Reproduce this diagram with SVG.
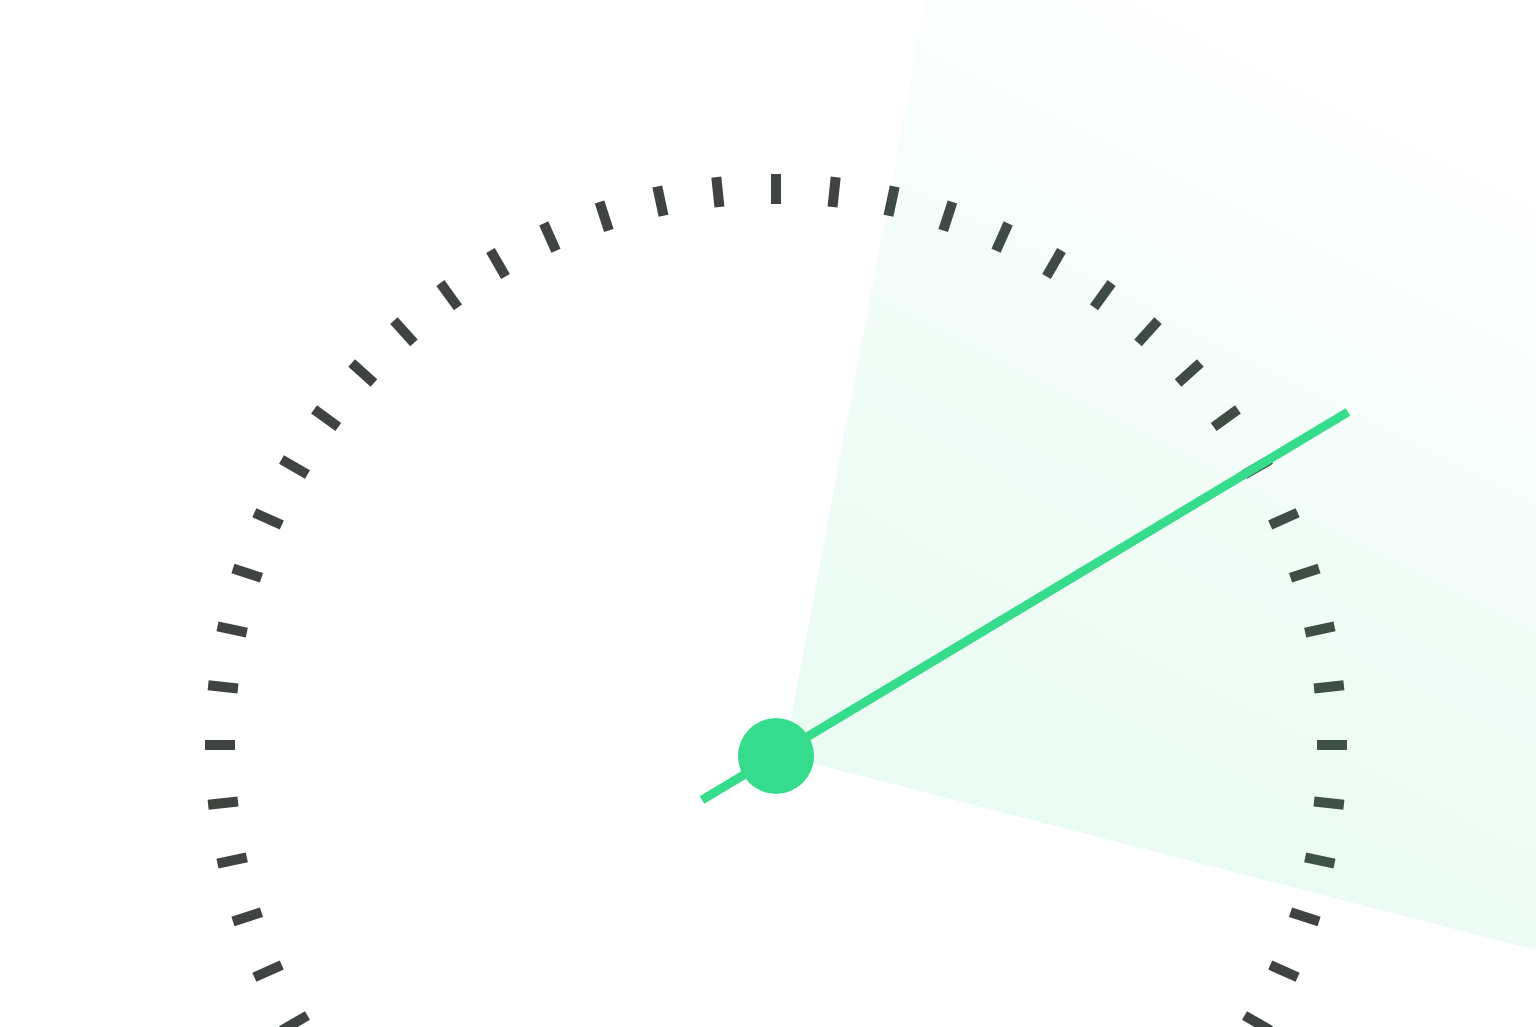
<svg xmlns="http://www.w3.org/2000/svg" width="1536" height="1027" viewBox="0 0 1536 1027">
<style>.t{stroke:#3f4441;stroke-width:10}</style>
<defs><linearGradient id="g" x1="0.2" y1="1" x2="0.6" y2="0"><stop offset="0" stop-color="#35dc8b" stop-opacity="0.12"/><stop offset="0.5" stop-color="#35dc8b" stop-opacity="0.07"/><stop offset="1" stop-color="#35dc8b" stop-opacity="0"/></linearGradient></defs>
<rect width="1536" height="1027" fill="#fff"/>
<g id="ticks">
<line class="t" x1="776" y1="174" x2="776" y2="204" transform="rotate(0 776 745)"/>
<line class="t" x1="776" y1="174" x2="776" y2="204" transform="rotate(6 776 745)"/>
<line class="t" x1="776" y1="174" x2="776" y2="204" transform="rotate(12 776 745)"/>
<line class="t" x1="776" y1="174" x2="776" y2="204" transform="rotate(18 776 745)"/>
<line class="t" x1="776" y1="174" x2="776" y2="204" transform="rotate(24 776 745)"/>
<line class="t" x1="776" y1="174" x2="776" y2="204" transform="rotate(30 776 745)"/>
<line class="t" x1="776" y1="174" x2="776" y2="204" transform="rotate(36 776 745)"/>
<line class="t" x1="776" y1="174" x2="776" y2="204" transform="rotate(42 776 745)"/>
<line class="t" x1="776" y1="174" x2="776" y2="204" transform="rotate(48 776 745)"/>
<line class="t" x1="776" y1="174" x2="776" y2="204" transform="rotate(54 776 745)"/>
<line class="t" x1="776" y1="174" x2="776" y2="204" transform="rotate(60 776 745)"/>
<line class="t" x1="776" y1="174" x2="776" y2="204" transform="rotate(66 776 745)"/>
<line class="t" x1="776" y1="174" x2="776" y2="204" transform="rotate(72 776 745)"/>
<line class="t" x1="776" y1="174" x2="776" y2="204" transform="rotate(78 776 745)"/>
<line class="t" x1="776" y1="174" x2="776" y2="204" transform="rotate(84 776 745)"/>
<line class="t" x1="776" y1="174" x2="776" y2="204" transform="rotate(90 776 745)"/>
<line class="t" x1="776" y1="174" x2="776" y2="204" transform="rotate(96 776 745)"/>
<line class="t" x1="776" y1="174" x2="776" y2="204" transform="rotate(102 776 745)"/>
<line class="t" x1="776" y1="174" x2="776" y2="204" transform="rotate(108 776 745)"/>
<line class="t" x1="776" y1="174" x2="776" y2="204" transform="rotate(114 776 745)"/>
<line class="t" x1="776" y1="174" x2="776" y2="204" transform="rotate(120 776 745)"/>
<line class="t" x1="776" y1="174" x2="776" y2="204" transform="rotate(126 776 745)"/>
<line class="t" x1="776" y1="174" x2="776" y2="204" transform="rotate(132 776 745)"/>
<line class="t" x1="776" y1="174" x2="776" y2="204" transform="rotate(138 776 745)"/>
<line class="t" x1="776" y1="174" x2="776" y2="204" transform="rotate(144 776 745)"/>
<line class="t" x1="776" y1="174" x2="776" y2="204" transform="rotate(150 776 745)"/>
<line class="t" x1="776" y1="174" x2="776" y2="204" transform="rotate(210 776 745)"/>
<line class="t" x1="776" y1="174" x2="776" y2="204" transform="rotate(216 776 745)"/>
<line class="t" x1="776" y1="174" x2="776" y2="204" transform="rotate(222 776 745)"/>
<line class="t" x1="776" y1="174" x2="776" y2="204" transform="rotate(228 776 745)"/>
<line class="t" x1="776" y1="174" x2="776" y2="204" transform="rotate(234 776 745)"/>
<line class="t" x1="776" y1="174" x2="776" y2="204" transform="rotate(240 776 745)"/>
<line class="t" x1="776" y1="174" x2="776" y2="204" transform="rotate(246 776 745)"/>
<line class="t" x1="776" y1="174" x2="776" y2="204" transform="rotate(252 776 745)"/>
<line class="t" x1="776" y1="174" x2="776" y2="204" transform="rotate(258 776 745)"/>
<line class="t" x1="776" y1="174" x2="776" y2="204" transform="rotate(264 776 745)"/>
<line class="t" x1="776" y1="174" x2="776" y2="204" transform="rotate(270 776 745)"/>
<line class="t" x1="776" y1="174" x2="776" y2="204" transform="rotate(276 776 745)"/>
<line class="t" x1="776" y1="174" x2="776" y2="204" transform="rotate(282 776 745)"/>
<line class="t" x1="776" y1="174" x2="776" y2="204" transform="rotate(288 776 745)"/>
<line class="t" x1="776" y1="174" x2="776" y2="204" transform="rotate(294 776 745)"/>
<line class="t" x1="776" y1="174" x2="776" y2="204" transform="rotate(300 776 745)"/>
<line class="t" x1="776" y1="174" x2="776" y2="204" transform="rotate(306 776 745)"/>
<line class="t" x1="776" y1="174" x2="776" y2="204" transform="rotate(312 776 745)"/>
<line class="t" x1="776" y1="174" x2="776" y2="204" transform="rotate(318 776 745)"/>
<line class="t" x1="776" y1="174" x2="776" y2="204" transform="rotate(324 776 745)"/>
<line class="t" x1="776" y1="174" x2="776" y2="204" transform="rotate(330 776 745)"/>
<line class="t" x1="776" y1="174" x2="776" y2="204" transform="rotate(336 776 745)"/>
<line class="t" x1="776" y1="174" x2="776" y2="204" transform="rotate(342 776 745)"/>
<line class="t" x1="776" y1="174" x2="776" y2="204" transform="rotate(348 776 745)"/>
<line class="t" x1="776" y1="174" x2="776" y2="204" transform="rotate(354 776 745)"/>
</g>
<polygon id="wedge" points="784,756 926,0 1536,0 1536,950" fill="url(#g)"/>
<g id="needle">
<line x1="702" y1="800" x2="1348" y2="412" stroke="#35dc8b" stroke-width="9"/>
<circle cx="776" cy="756" r="38" fill="#35dc8b"/>
</g>
</svg>
